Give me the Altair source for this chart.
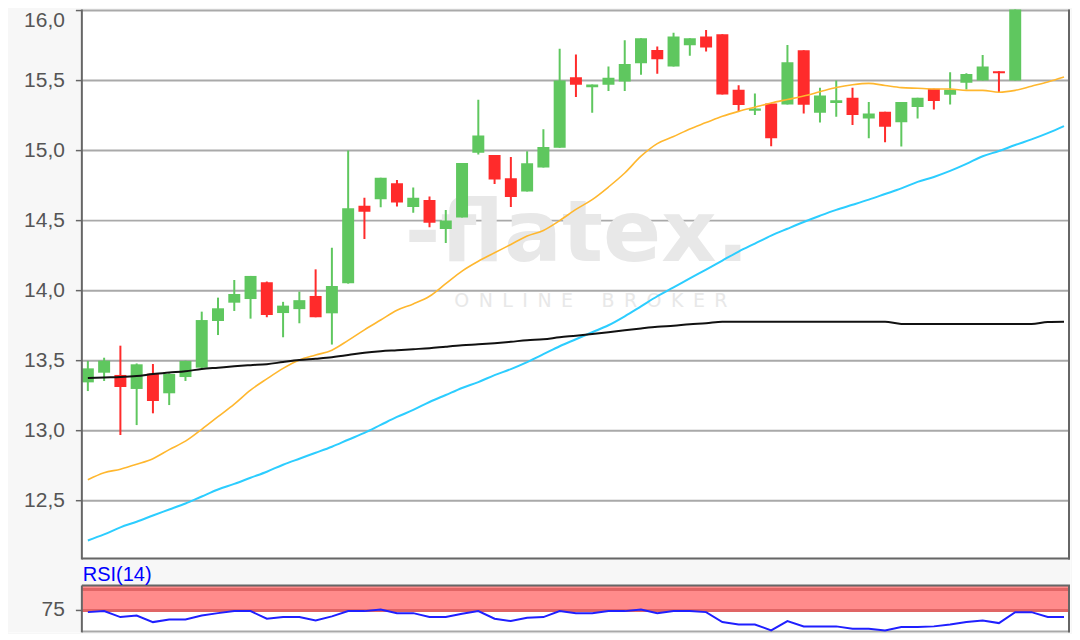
import altair as alt
import pandas as pd

# ---- candle data (index 0..60) ----
opens = [13.345, 13.414, 13.398, 13.298, 13.407, 13.267, 13.383, 13.45, 13.783, 13.914,
         13.94, 14.06, 13.84, 13.868, 13.962, 13.838, 14.053, 14.607, 14.652, 14.767,
         14.598, 14.648, 14.441, 14.523, 14.985, 14.968, 14.802, 14.708, 14.879, 15.02,
         15.523, 15.453, 15.47, 15.494, 15.624, 15.718, 15.6, 15.753, 15.814, 15.831,
         15.435, 15.285, 15.336, 15.329, 15.717, 15.27, 15.34, 15.378, 15.23, 15.277,
         15.202, 15.312, 15.441, 15.399, 15.484, 15.5, 15.566, 15.5, 16.12, 16.3, 16.28]
highs = [13.498, 13.521, 13.607, 13.48, 13.476, 13.41, 13.50, 13.85, 13.95, 14.076,
         14.105, 14.065, 13.92, 13.993, 14.152, 14.306, 15.0, 14.664, 14.807, 14.79,
         14.736, 14.672, 14.575, 14.912, 15.364, 14.968, 14.954, 14.996, 15.153, 15.727,
         15.687, 15.472, 15.601, 15.788, 15.802, 15.744, 15.842, 15.802, 15.861, 15.831,
         15.466, 15.407, 15.336, 15.755, 15.717, 15.448, 15.5, 15.448, 15.347, 15.277,
         15.347, 15.378, 15.441, 15.559, 15.552, 15.683, 15.566, 16.2, 16.35, 16.42, 16.33]
lows = [13.283, 13.355, 12.969, 13.04, 13.124, 13.183, 13.355, 13.44, 13.683, 13.855,
        13.80, 13.81, 13.667, 13.767, 13.81, 13.615, 14.05, 14.369, 14.595, 14.6,
        14.557, 14.452, 14.341, 14.523, 14.973, 14.762, 14.598, 14.708, 14.879, 15.02,
        15.383, 15.27, 15.425, 15.426, 15.541, 15.548, 15.6, 15.678, 15.708, 15.4,
        15.278, 15.254, 15.031, 15.329, 15.265, 15.2, 15.242, 15.183, 15.089, 15.059,
        15.03, 15.23, 15.293, 15.329, 15.437, 15.5, 15.418, 15.5, 16.08, 16.2, 16.03]
closes = [13.445, 13.50, 13.312, 13.474, 13.212, 13.405, 13.498, 13.79, 13.874, 13.976,
          14.105, 13.826, 13.893, 13.932, 13.81, 14.033, 14.589, 14.564, 14.807, 14.629,
          14.664, 14.484, 14.50, 14.912, 15.107, 14.793, 14.669, 14.91, 15.025, 15.5,
          15.47, 15.472, 15.52, 15.619, 15.802, 15.652, 15.814, 15.802, 15.736, 15.4,
          15.325, 15.301, 15.089, 15.631, 15.327, 15.394, 15.359, 15.254, 15.265, 15.171,
          15.347, 15.378, 15.354, 15.434, 15.547, 15.601, 15.552, 16.12, 16.3, 16.26, 16.1]

# ---- moving averages ----
ma_yellow = [12.65, 12.70, 12.725, 12.76, 12.80, 12.865, 12.925, 13.01, 13.10, 13.19,
             13.29, 13.37, 13.445, 13.505, 13.54, 13.575, 13.645, 13.72, 13.79, 13.86,
             13.905, 13.96, 14.05, 14.14, 14.21, 14.27, 14.33, 14.39, 14.43, 14.50,
             14.58, 14.65, 14.74, 14.84, 14.96, 15.05, 15.10, 15.155, 15.20, 15.245,
             15.28, 15.31, 15.34, 15.365, 15.39, 15.42, 15.45, 15.47, 15.48, 15.465,
             15.45, 15.445, 15.44, 15.44, 15.43, 15.43, 15.417, 15.43, 15.46, 15.49, 15.525]
ma_cyan = [12.216, 12.259, 12.31, 12.35, 12.394, 12.437, 12.48, 12.53, 12.58, 12.62,
           12.664, 12.707, 12.757, 12.80, 12.842, 12.885, 12.935, 12.984, 13.041, 13.098,
           13.148, 13.205, 13.255, 13.305, 13.347, 13.397, 13.44, 13.49, 13.546, 13.603,
           13.653, 13.703, 13.753, 13.817, 13.888, 13.96, 14.023, 14.087, 14.15, 14.215,
           14.279, 14.336, 14.393, 14.442, 14.49, 14.535, 14.577, 14.613, 14.65, 14.69,
           14.73, 14.777, 14.812, 14.855, 14.905, 14.96, 14.997, 15.04, 15.08, 15.125, 15.175]
ma_black = [13.376, 13.38, 13.383, 13.39, 13.404, 13.415, 13.425, 13.44, 13.45, 13.46,
            13.468, 13.475, 13.49, 13.504, 13.514, 13.525, 13.54, 13.557, 13.568, 13.575,
            13.582, 13.589, 13.60, 13.61, 13.617, 13.625, 13.635, 13.646, 13.653, 13.667,
            13.678, 13.69, 13.703, 13.717, 13.73, 13.742, 13.75, 13.76, 13.767, 13.778,
            13.778, 13.778, 13.778, 13.778, 13.778, 13.778, 13.778, 13.778, 13.778, 13.778,
            13.762, 13.762, 13.762, 13.762, 13.762, 13.762, 13.762, 13.762, 13.762, 13.776, 13.778]

# ---- RSI(14) ----
rsi = [73.0, 74.2, 67.1, 69.0, 61.1, 64.3, 64.3, 69.0, 71.8, 74.2,
       74.2, 65.1, 67.1, 67.1, 63.1, 67.9, 74.2, 74.2, 76.2, 71.8,
       71.8, 67.1, 67.1, 71.0, 74.2, 65.1, 62.3, 66.3, 67.1, 74.2,
       71.8, 71.8, 74.2, 74.2, 76.2, 71.8, 74.2, 74.2, 73.0, 61.1,
       58.3, 58.3, 51.2, 62.3, 56.0, 56.0, 56.0, 53.2, 53.2, 51.2,
       55.2, 55.2, 56.0, 58.3, 61.1, 63.1, 59.9, 73.0, 73.0, 67.1, 67.1]

price_ticks = [12.5, 13.0, 13.5, 14.0, 14.5, 15.0, 15.5, 16.0]
rsi_ticks = [75]
rsi_band = [75, 104.76]
rsi_band_lines = [75, 100]
rsi_mid = [50]
rsi_title = "RSI(14)"

df = pd.DataFrame({
    "i": list(range(len(opens))), "open": opens, "high": highs, "low": lows,
    "close": closes, "ma_fast": ma_yellow, "ma_mid": ma_cyan, "ma_slow": ma_black,
    "rsi": rsi,
})
df["dir"] = ["up" if c >= o else "down" for o, c in zip(opens, closes)]

# ---- layout constants (pixels inside the chart area) ----
W, H = 1064, 624
PX0 = 74            # left edge of plot frame
P_BOT = 549         # bottom of price panel
R_TOP, R_BOT = 577, 624

GREEN = "#5fc75f"
RED = "#ff2b2b"
AX = "#666666"
GRID = "#a9a9a9"
LBL = "#555555"
BG = "#f7f7f7"

xs = alt.Scale(domain=[-4.908, 60.368], range=[0, W], padding=0, nice=False, zero=False)
ys = alt.Scale(domain=[12.094, 16.007], range=[P_BOT, 0], padding=0, nice=False, zero=False)
rs = alt.Scale(domain=[48.8, 104.76], range=[R_BOT, R_TOP], padding=0, nice=False, zero=False)
col = alt.Color("dir:N", scale=alt.Scale(domain=["up", "down"], range=[GREEN, RED]), legend=None)

base = alt.Chart(df)
one = alt.Chart(pd.DataFrame({"k": [0]}))
X = alt.X("i:Q", scale=xs, axis=None)

# backgrounds outside the plotting frames
strip = one.mark_rect(color=BG).encode(x=alt.value(0), x2=alt.value(PX0), y=alt.value(0), y2=alt.value(H))
gap = one.mark_rect(color=BG).encode(x=alt.value(0), x2=alt.value(W), y=alt.value(P_BOT), y2=alt.value(R_TOP))

# RSI decorations
band = alt.Chart(pd.DataFrame({"lo": [rsi_band[0]], "hi": [rsi_band[1]]})).mark_rect(
    color="#ff8b8b").encode(
    y=alt.Y("lo:Q", scale=rs, axis=None), y2="hi:Q", x=alt.value(PX0), x2=alt.value(W))
band_lines = alt.Chart(pd.DataFrame({"v": rsi_band_lines})).mark_rule(
    color="#e06565", strokeWidth=3).encode(
    y=alt.Y("v:Q", scale=rs, axis=None), x=alt.value(PX0), x2=alt.value(W))
mid = alt.Chart(pd.DataFrame({"v": rsi_mid})).mark_rule(color=GRID, strokeWidth=2).encode(
    y=alt.Y("v:Q", scale=rs, axis=None), x=alt.value(PX0), x2=alt.value(W))

# price grid, ticks, labels
pt = alt.Chart(pd.DataFrame({"v": price_ticks}))
grid = pt.mark_rule(color=GRID, strokeWidth=2).encode(
    y=alt.Y("v:Q", scale=ys, axis=None), x=alt.value(PX0), x2=alt.value(W))
pticks = pt.mark_rule(color=AX, strokeWidth=1.5).encode(
    y=alt.Y("v:Q", scale=ys, axis=None), x=alt.value(PX0 - 6), x2=alt.value(PX0))
lbl_expr = "replace(format(datum.v, '.1f'), '.', ',')"
plabels = pt.transform_filter("datum.v < 15.9").transform_calculate(lbl=lbl_expr).mark_text(
    font="Liberation Sans", fontSize=21, color=LBL, align="right", baseline="middle").encode(
    y=alt.Y("v:Q", scale=ys, axis=None), x=alt.value(PX0 - 17), text="lbl:N")
plabel_top = pt.transform_filter("datum.v >= 15.9").transform_calculate(lbl=lbl_expr).mark_text(
    font="Liberation Sans", fontSize=21, color=LBL, align="right", baseline="top", dy=-1).encode(
    y=alt.Y("v:Q", scale=ys, axis=None), x=alt.value(PX0 - 17), text="lbl:N")

rt = alt.Chart(pd.DataFrame({"v": rsi_ticks}))
rticks = rt.mark_rule(color=AX, strokeWidth=1.5).encode(
    y=alt.Y("v:Q", scale=rs, axis=None), x=alt.value(PX0 - 6), x2=alt.value(PX0))
rlabels = rt.mark_text(
    font="Liberation Sans", fontSize=21, color=LBL, align="right", baseline="middle").encode(
    y=alt.Y("v:Q", scale=rs, axis=None), x=alt.value(PX0 - 17), text="v:N")

title = alt.Chart(pd.DataFrame({"t": [rsi_title]})).mark_text(
    font="Liberation Sans", fontSize=20, color="#0000ff", align="left", baseline="alphabetic").encode(
    text="t:N", x=alt.value(PX0 + 1), y=alt.value(572))

# watermark
wm1 = alt.Chart(pd.DataFrame({"t": ["-flatex."]})).mark_text(
    font="DejaVu Sans", fontWeight="bold", fontSize=86, color="#e8e8e8",
    align="center", baseline="alphabetic").encode(
    text="t:N", x=alt.value(570), y=alt.value(252))
wm2 = alt.Chart(pd.DataFrame({"t": ["\u2002".join("ONLINE") + "\u2002\u2002\u2002" + "\u2002".join("BROKER")]})).mark_text(
    font="DejaVu Sans", fontSize=19, color="#e8e8e8",
    align="center", baseline="alphabetic").encode(
    text="t:N", x=alt.value(584), y=alt.value(298))

# candles
wicks = base.mark_rule(strokeWidth=2, clip=True).encode(
    x=X, y=alt.Y("low:Q", scale=ys, axis=None), y2="high:Q", color=col)
bodies = base.mark_bar(size=12, clip=True).encode(
    x=X, y=alt.Y("open:Q", scale=ys, axis=None), y2="close:Q", color=col)

def ma_line(field, color, w):
    return base.mark_line(color=color, strokeWidth=w, clip=True, interpolate="monotone").encode(
        x=X, y=alt.Y(f"{field}:Q", scale=ys, axis=None))

rsi_line = base.mark_line(color="#1f1fff", strokeWidth=2, clip=True).encode(
    x=X, y=alt.Y("rsi:Q", scale=rs, axis=None))

# frame lines
left_p = one.mark_rule(color=AX, strokeWidth=2).encode(x=alt.value(PX0), y=alt.value(0), y2=alt.value(P_BOT + 2))
right_p = one.mark_rule(color=AX, strokeWidth=2).encode(x=alt.value(W - 1), y=alt.value(0), y2=alt.value(P_BOT + 2))
bottom_p = one.mark_rule(color=AX, strokeWidth=2).encode(x=alt.value(PX0), x2=alt.value(W), y=alt.value(P_BOT + 1))
left_r = one.mark_rule(color=AX, strokeWidth=2).encode(x=alt.value(PX0), y=alt.value(R_TOP), y2=alt.value(H))
right_r = one.mark_rule(color=AX, strokeWidth=2).encode(x=alt.value(W - 1), y=alt.value(R_TOP), y2=alt.value(H))
top_r = one.mark_rule(color=AX, strokeWidth=2).encode(x=alt.value(PX0), x2=alt.value(W), y=alt.value(R_TOP))

chart = alt.layer(
    strip, gap, band, band_lines, mid, grid, wm1, wm2,
    wicks, bodies,
    ma_line("ma_mid", "#2ccdff", 2),
    ma_line("ma_fast", "#ffb72e", 1.6),
    ma_line("ma_slow", "#111111", 2),
    rsi_line,
    left_p, right_p, bottom_p, left_r, right_r, top_r,
    pticks, plabels, plabel_top, rticks, rlabels, title,
).resolve_scale(y="independent").properties(
    width=W, height=H,
    padding={"left": 0, "top": 0, "right": 0, "bottom": 0},
    background=BG,
).configure_view(stroke="transparent", fill="white")

chart.save("out.html", embed_options={"renderer": "svg", "actions": False})
